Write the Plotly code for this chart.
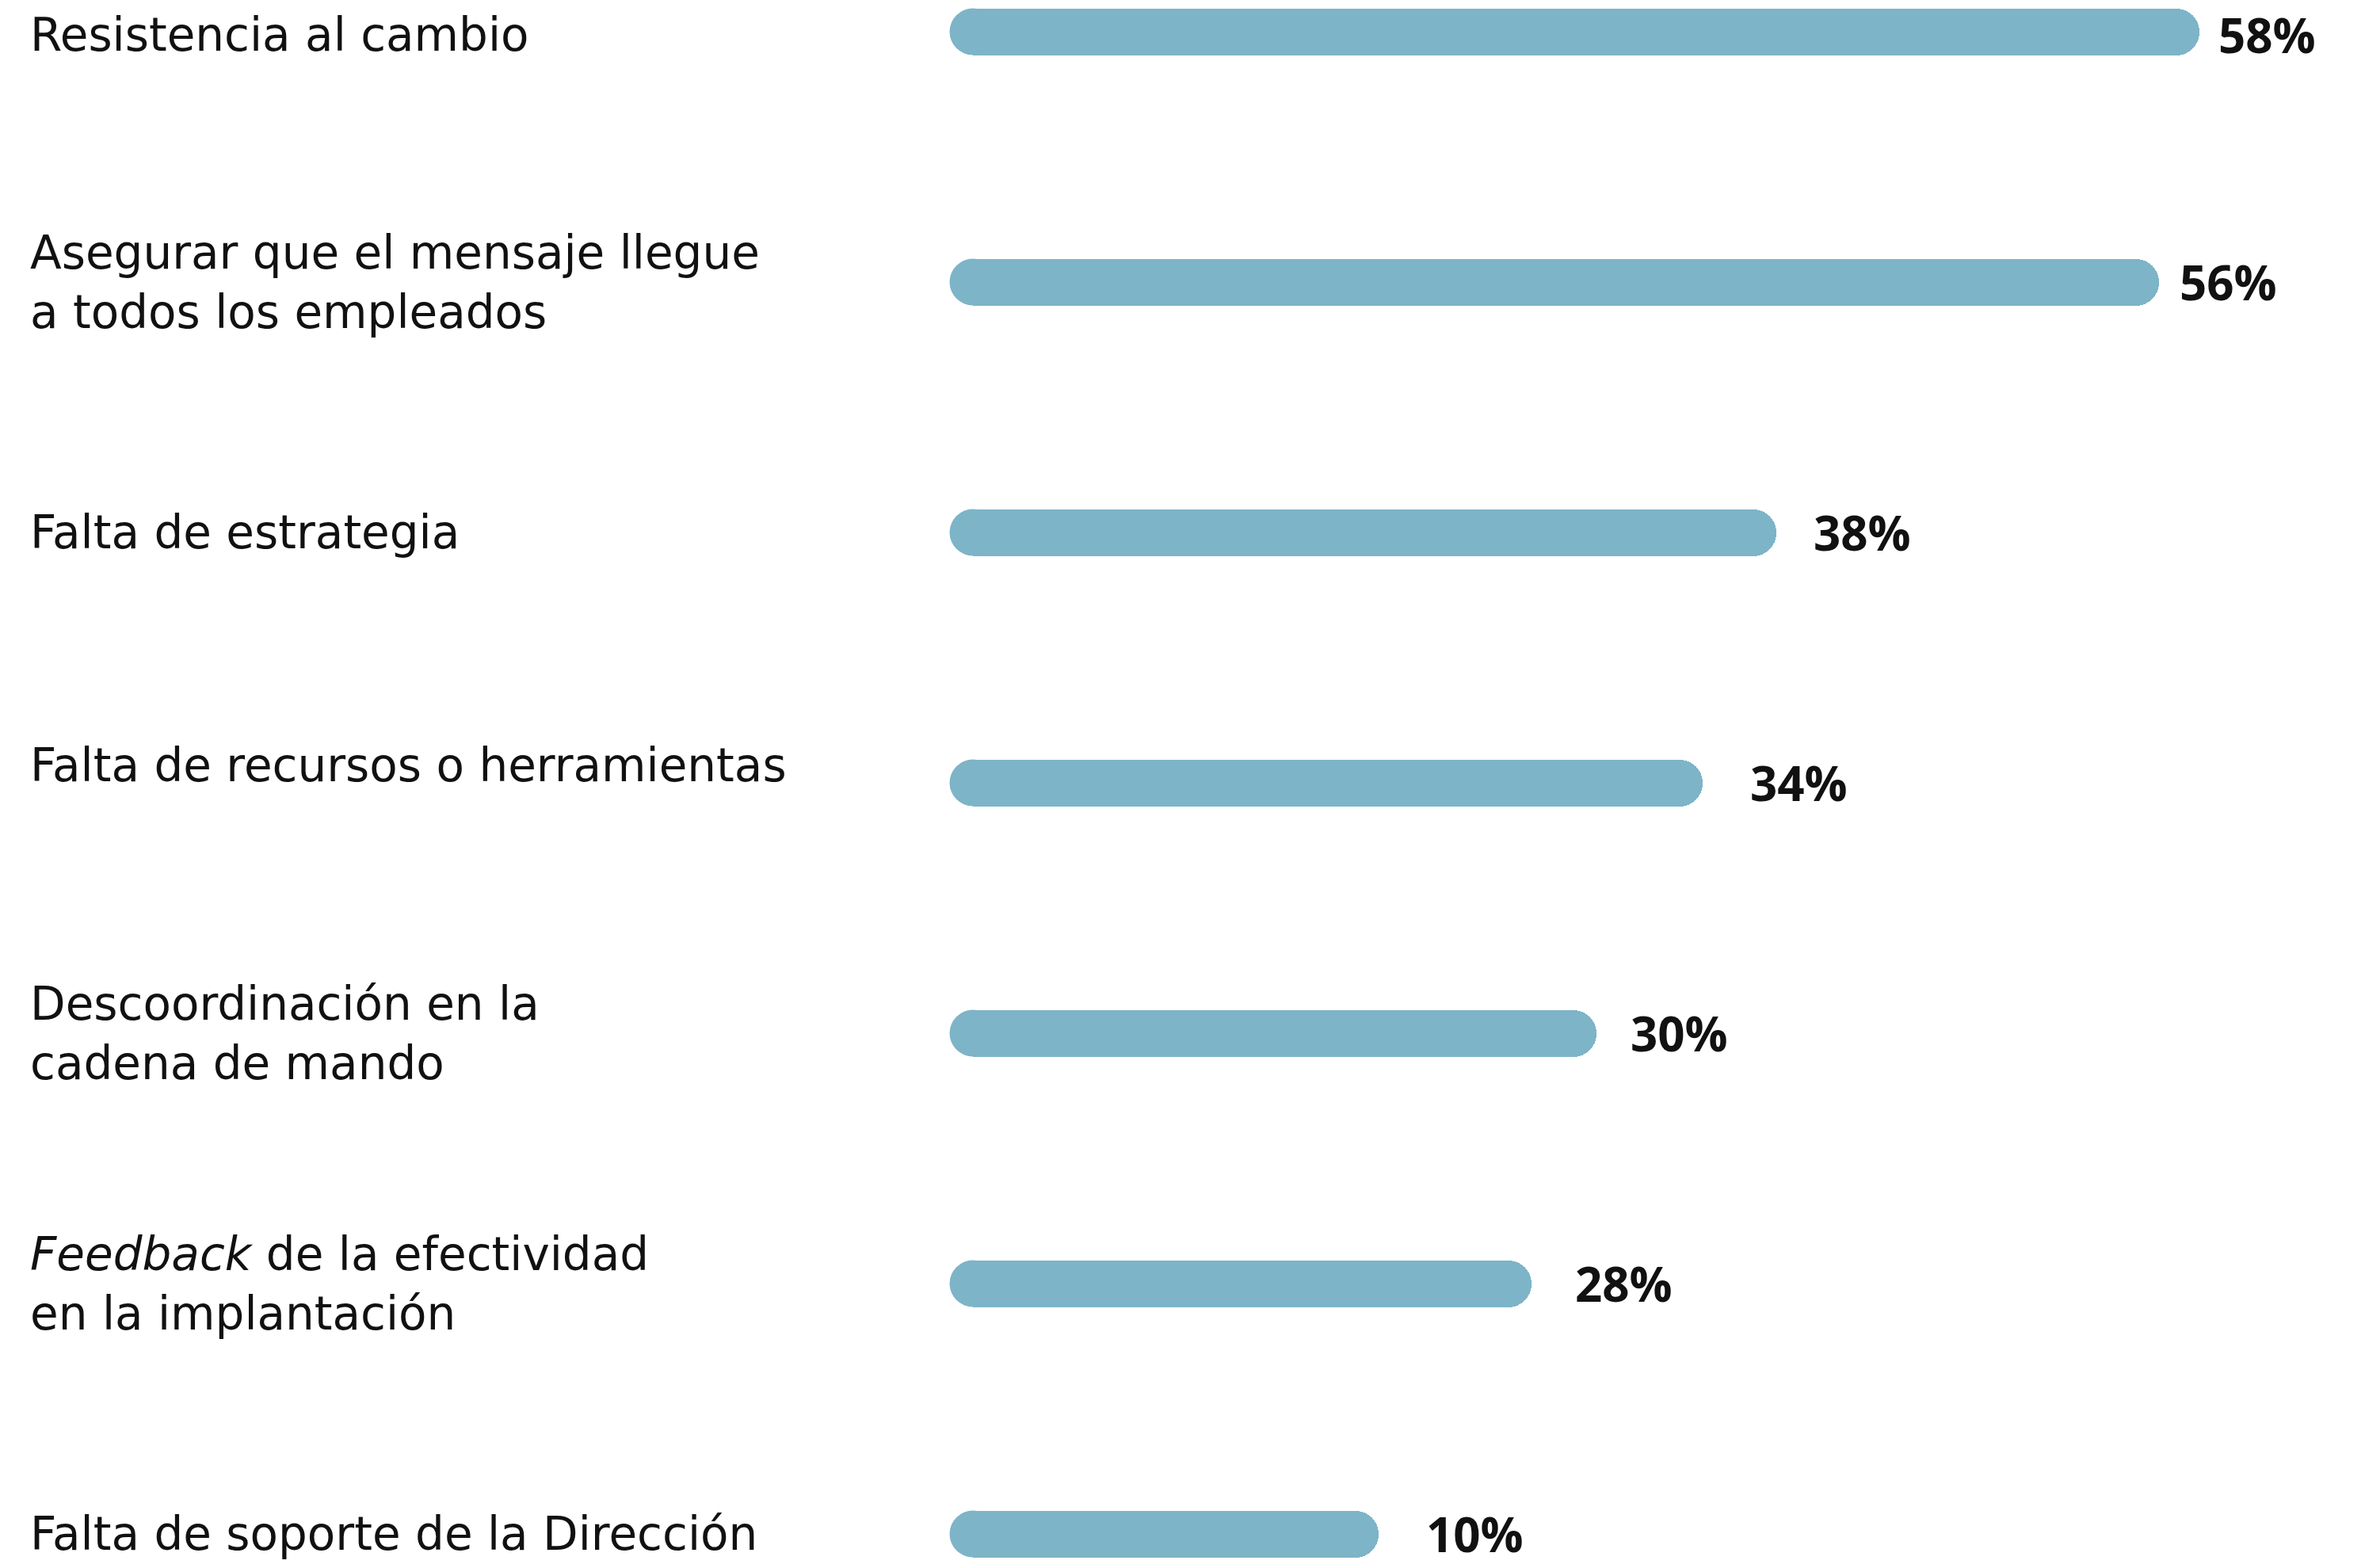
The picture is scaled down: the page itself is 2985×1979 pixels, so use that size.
import plotly.graph_objects as go

categories = [
    "Resistencia al cambio",
    "Asegurar que el mensaje llegue<br>a todos los empleados",
    "Falta de estrategia",
    "Falta de recursos o herramientas",
    "Descoordinación en la<br>cadena de mando",
    "<i>Feedback</i> de la efectividad<br>en la implantación",
    "Falta de soporte de la Dirección",
]
pct_labels = ["58%", "56%", "38%", "34%", "30%", "28%", "10%"]
# bar lengths as drawn in the reference (the 10% bar is drawn longer than scale)
bar_lengths = [58, 56.1, 38.0, 34.5, 29.5, 26.4, 19.2]

# styling: horizontal gap (px) between bar end and its value label
label_gaps = [22, 24, 45, 58, 41, 53, 58]

BAR_COLOR = "#7db4c8"
TEXT_COLOR = "#111111"
W, H = 2985, 1979
THICK = 59

ycats = list(range(len(categories)))

fig = go.Figure()
fig.add_trace(go.Bar(
    x=bar_lengths, y=ycats, orientation="h",
    marker=dict(color=BAR_COLOR, cornerradius=THICK // 2, line=dict(width=0)),
    width=THICK / 316.0, hoverinfo="skip", showlegend=False,
))
fig.add_trace(go.Scatter(
    x=[0] * len(ycats), y=ycats, mode="markers",
    marker=dict(color=BAR_COLOR, size=THICK, line=dict(width=0)),
    hoverinfo="skip", showlegend=False,
))

annotations = []
for i, (cat, lab, v) in enumerate(zip(categories, pct_labels, bar_lengths)):
    annotations.append(dict(
        x=36 / W, xref="paper", y=i, yref="y", text=cat, showarrow=False,
        xanchor="left", yanchor="middle", align="left",
        yshift=22 if i == 3 else (-4 if i == 0 else 0),
        font=dict(family="DejaVu Sans", size=58, color=TEXT_COLOR),
    ))
    annotations.append(dict(
        x=v, xref="x", y=i, yref="y", text=f"<b>{lab}</b>", showarrow=False,
        xanchor="left", yanchor="middle", xshift=label_gaps[i],
        yshift=-4 if i == 0 else 0,
        font=dict(family="Open Sans", size=60, color=TEXT_COLOR),
    ))

scale = (2776 - 1228) / 58.0
x0 = -1228 / scale
x1 = (W - 1228) / scale
top_c, bot_c = 40, 1936
step = (bot_c - top_c) / 6.0
y_top = -top_c / step
y_bot = (H - top_c) / step

fig.update_layout(
    width=W, height=H,
    margin=dict(l=0, r=0, t=0, b=0),
    paper_bgcolor="white", plot_bgcolor="white",
    xaxis=dict(range=[x0, x1], visible=False, fixedrange=True),
    yaxis=dict(range=[y_bot, y_top], visible=False, fixedrange=True),
    annotations=annotations,
    bargap=0,
)

fig.write_html("out.html", config={"displayModeBar": False})
